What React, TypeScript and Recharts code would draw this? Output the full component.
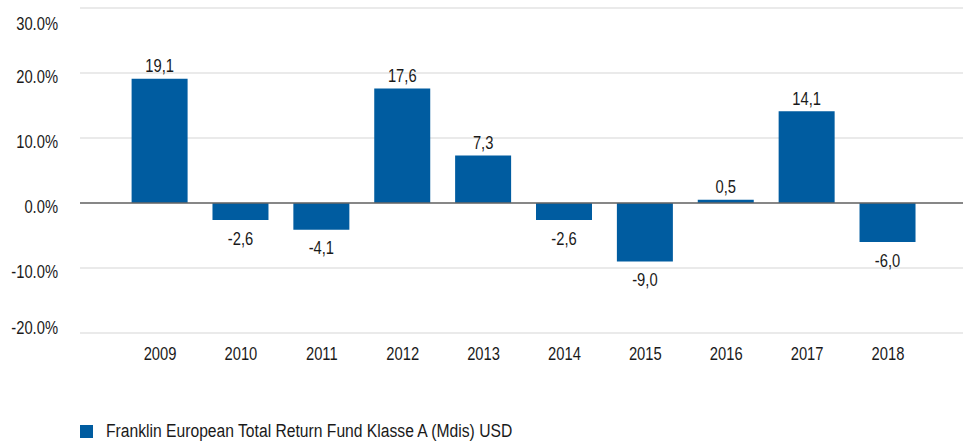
import React from 'react';
import { BarChart, Bar, XAxis, YAxis, CartesianGrid, ReferenceLine, LabelList, Legend } from 'recharts';

const years = ['2009', '2010', '2011', '2012', '2013', '2014', '2015', '2016', '2017', '2018'];
const returns = [19.1, -2.6, -4.1, 17.6, 7.3, -2.6, -9.0, 0.5, 14.1, -6.0];
const yTicks = [-20, -10, 0, 10, 20, 30];
const seriesName = 'Franklin European Total Return Fund Klasse A (Mdis) USD';

const data = years.map((y, i) => ({ year: y, value: returns[i] }));

const FONT = '"Liberation Sans", Arial, sans-serif';
const FS = 18;
const NARROW = 0.82;
const LEGEND_NARROW = 0.87;
const BAR_COLOR = '#005CA0';
const TEXT = '#1a1a1a';

const NText = ({ x, y, anchor, dy, children }: any) => (
  <text
    transform={`translate(${x},${y}) scale(${NARROW},1)`}
    x={0}
    y={0}
    dy={dy}
    textAnchor={anchor}
    fill={TEXT}
    fontSize={FS}
    fontFamily={FONT}
  >
    {children}
  </text>
);

const YTick = (props: any) => {
  const { x, y, payload } = props;
  const v = payload.value;
  let off = 3.5;
  if (v === 30) off = 14.5;
  if (v === -20) off = -5.5;
  return (
    <NText x={x} y={y + off} dy="0.355em" anchor="end">
      {v.toFixed(1) + '%'}
    </NText>
  );
};

const XTick = (props: any) => {
  const { x, y, payload } = props;
  return (
    <NText x={x} y={y} dy="0.71em" anchor="middle">
      {payload.value}
    </NText>
  );
};

const BarLabel = (props: any) => {
  const { x, y, width, height, value } = props;
  const top = Math.min(y, y + height);
  const bottom = Math.max(y, y + height);
  const cx = x + width / 2;
  const txt = Number(value).toFixed(1).replace('.', ',');
  if (value >= 0) {
    return (
      <NText x={cx} y={top - 6.5} anchor="middle">
        {txt}
      </NText>
    );
  }
  return (
    <NText x={cx} y={bottom + 12} dy="0.71em" anchor="middle">
      {txt}
    </NText>
  );
};

const LegendContent = (props: any) => {
  const { payload } = props;
  return (
    <div style={{ display: 'flex', alignItems: 'center', fontFamily: FONT, fontSize: FS, color: TEXT, height: 20 }}>
      {(payload || []).map((p: any, i: number) => (
        <div key={i} style={{ display: 'flex', alignItems: 'center' }}>
          <div style={{ width: 13, height: 13, background: p.color, marginRight: 13, flex: 'none' }} />
          <span style={{ display: 'inline-block', whiteSpace: 'nowrap', transform: `scaleX(${LEGEND_NARROW})`, transformOrigin: 'left center' }}>
            {p.value}
          </span>
        </div>
      ))}
    </div>
  );
};

export default function App() {
  return (
    <div style={{ position: 'absolute', left: 0, top: 0, background: '#fff' }}>
      <BarChart width={963} height={443} data={data} margin={{ top: 8, right: 0, bottom: 60, left: 0 }}>
        <CartesianGrid vertical={false} stroke="#e3e3e3" strokeWidth={1.5} />
        <XAxis
          dataKey="year"
          axisLine={false}
          tickLine={false}
          tickSize={6}
          tickMargin={8}
          height={30}
          padding={{ left: 39.6, right: 34.6 }}
          tick={<XTick />}
          interval={0}
        />
        <YAxis
          domain={[-20, 30]}
          ticks={yTicks}
          width={80}
          axisLine={false}
          tickLine={false}
          tickSize={6}
          tickMargin={16}
          tick={<YTick />}
        />
        <ReferenceLine y={0} stroke="#666" strokeWidth={1.5} />
        <Legend
          verticalAlign="bottom"
          align="left"
          content={<LegendContent />}
          wrapperStyle={{ left: 80, bottom: 2, width: 700 }}
        />
        <Bar dataKey="value" name={seriesName} fill={BAR_COLOR} barSize={56} isAnimationActive={false}>
          <LabelList dataKey="value" content={<BarLabel />} />
        </Bar>
      </BarChart>
    </div>
  );
}
